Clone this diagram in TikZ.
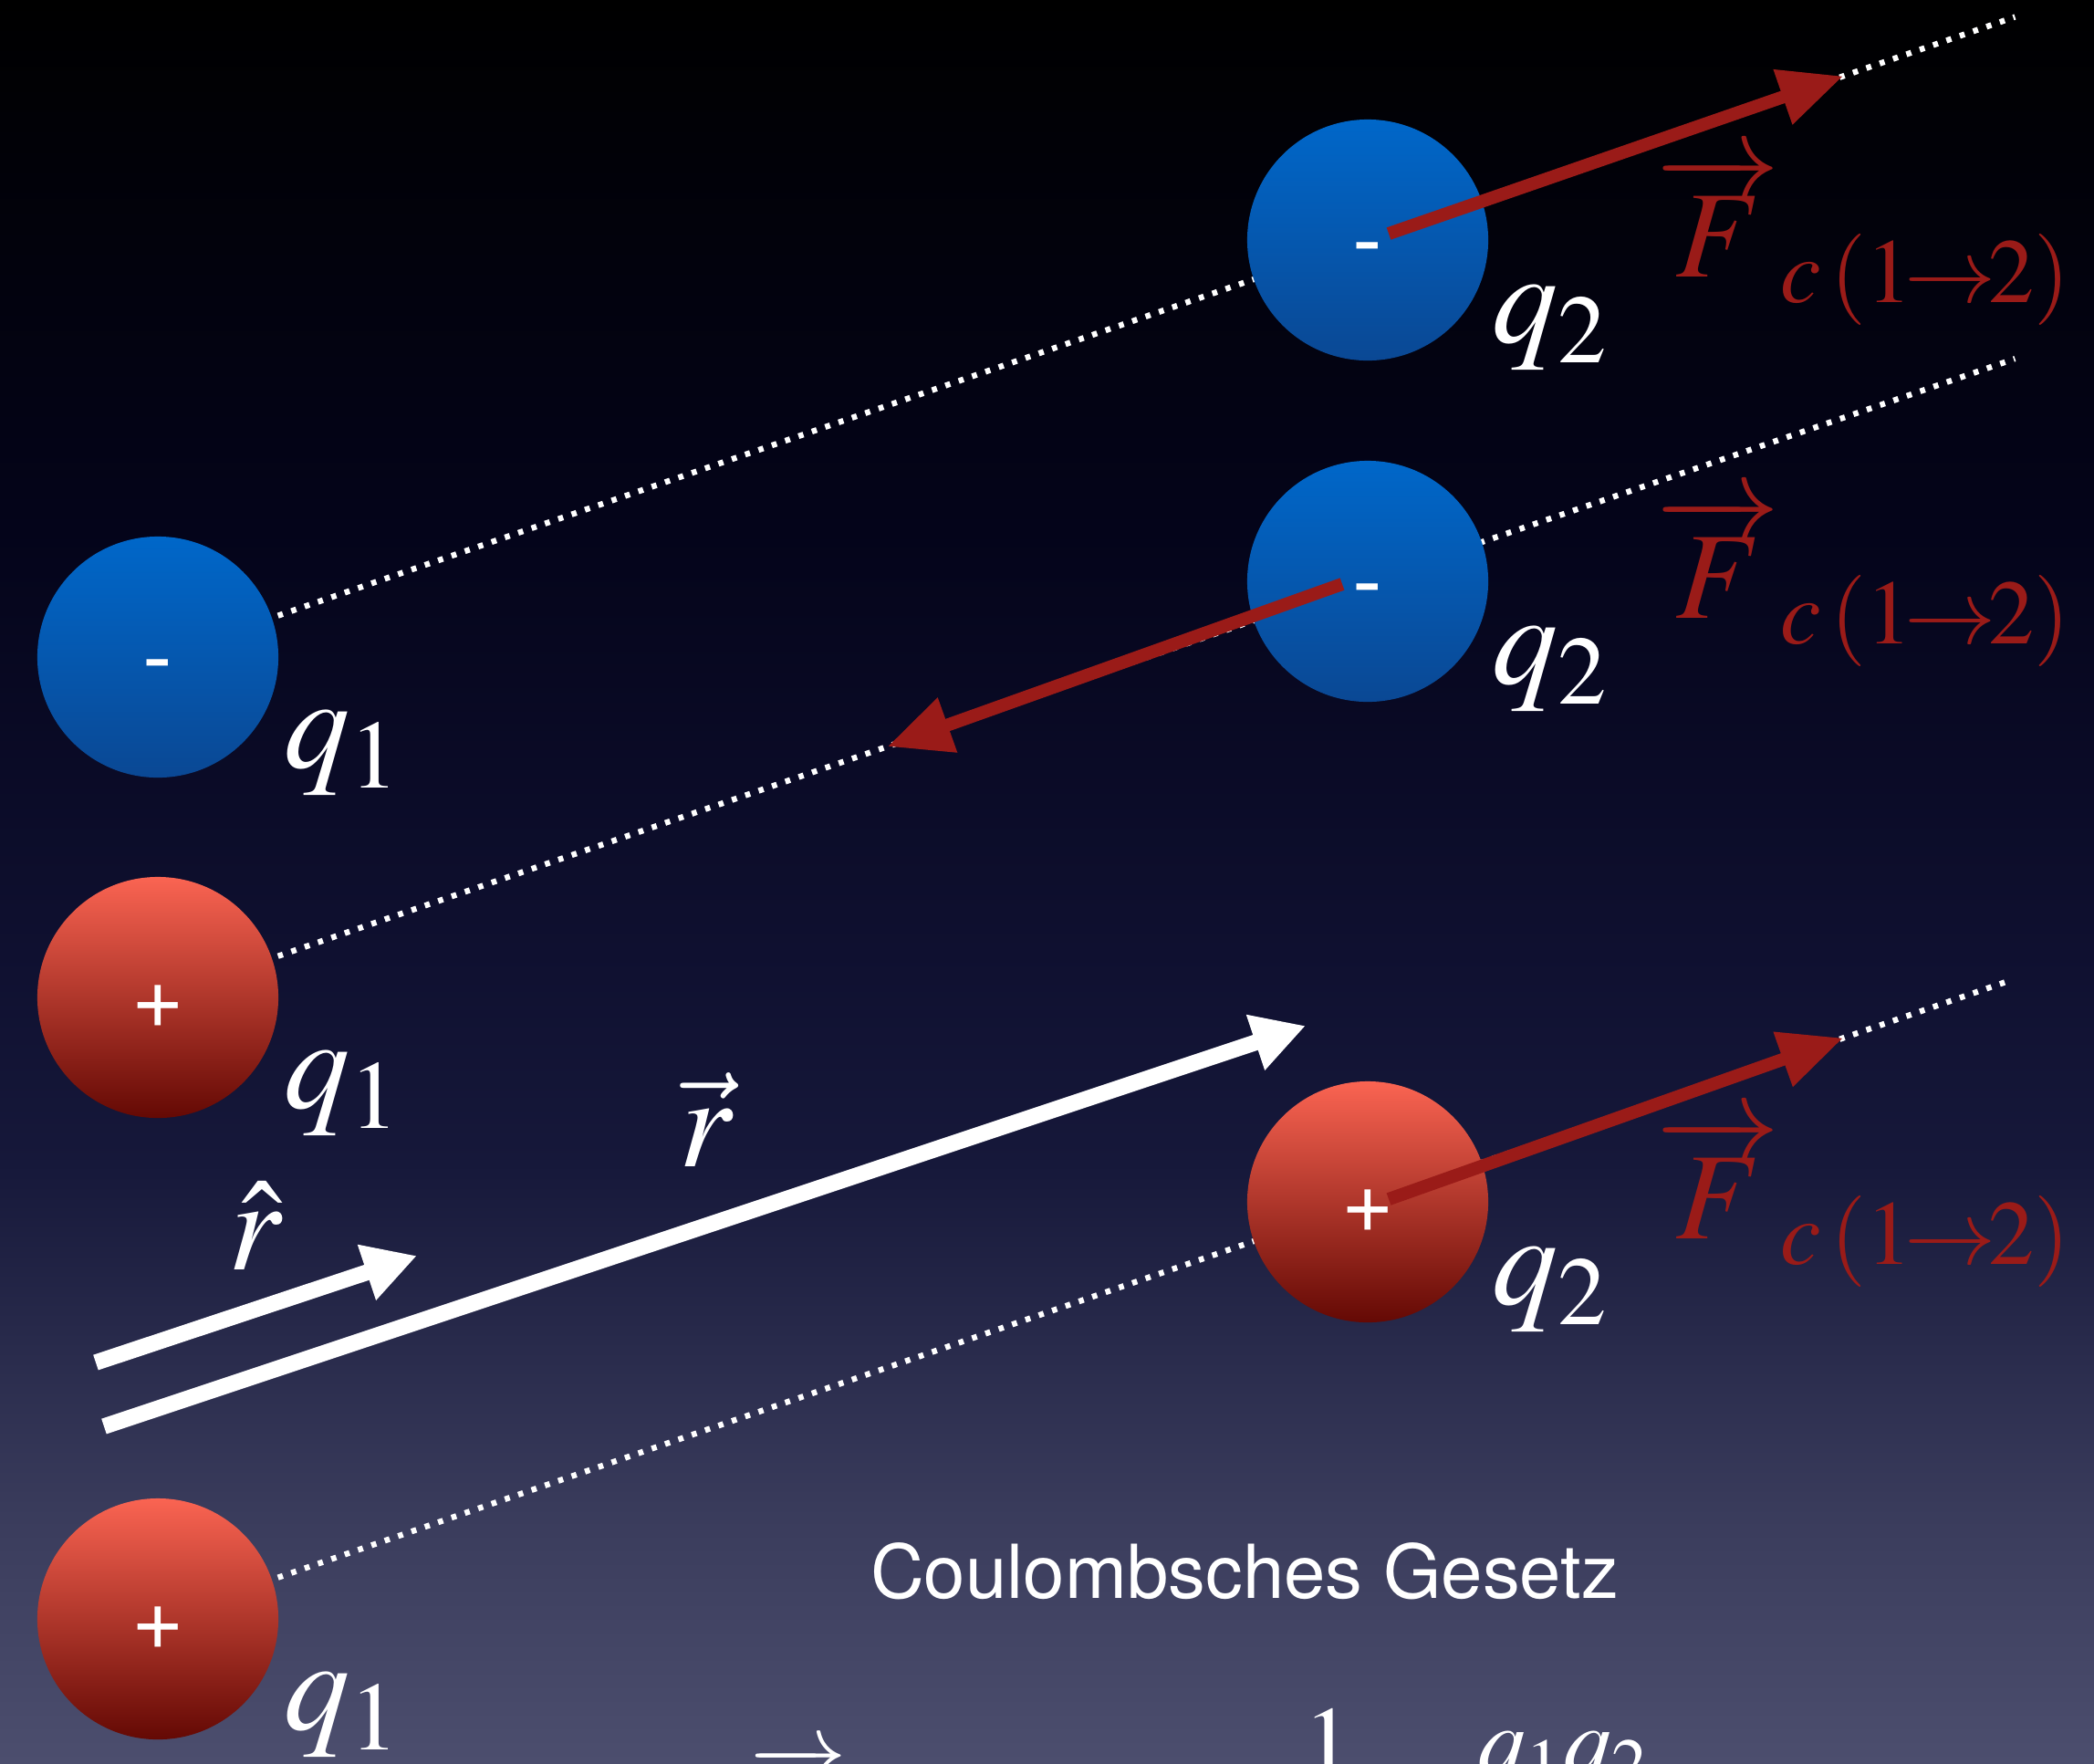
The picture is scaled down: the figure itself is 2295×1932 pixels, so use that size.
\documentclass[tikz,border=0pt]{standalone}
\usepackage{mathptmx}
\usepackage{fontspec}
\setsansfont{TeX Gyre Heros}
\usepackage{tikz}
\usetikzlibrary{arrows.meta, calc, backgrounds}
\definecolor{neg-top}{HTML}{0067C9}
\definecolor{neg-bottom}{HTML}{0A4894}
\definecolor{pos-top}{HTML}{FA6452}
\definecolor{pos-bottom}{HTML}{640904}
\definecolor{force-red}{HTML}{9A1B18}
\pgfdeclareverticalshading{slidebg}{100bp}{%
  color(0bp)=(rgb,255:red,76;green,78;blue,110);
  color(25bp)=(rgb,255:red,76;green,78;blue,110);
  color(32bp)=(rgb,255:red,58;green,60;blue,92);
  color(42bp)=(rgb,255:red,22;green,24;blue,58);
  color(48bp)=(rgb,255:red,15;green,16;blue,48);
  color(60bp)=(rgb,255:red,4;green,4;blue,26);
  color(75bp)=(black);
  color(100bp)=(black)}

\tikzset{
  charge/.style={circle, minimum size=2.64cm, inner sep=0pt, text=white,
                 text height=19pt, text depth=0pt,
                 font=\sffamily\fontsize{28}{30}\selectfont},
  negative/.style={charge, top color=neg-top, bottom color=neg-bottom},
  positive/.style={charge, top color=pos-top, bottom color=pos-bottom},
  guide/.style={white, line width=1.8pt, dash pattern=on 1.6pt off 2.8pt},
  force/.style={force-red, line width=4pt, -{Triangle[length=0.7cm, width=0.6cm]}},
  unitvec/.style={white, line width=5pt, -{Triangle[length=0.58cm, width=0.6cm]}},
  mathlabel/.style={text=white, font=\fontsize{41}{48}\selectfont},
  forcelabel/.style={text=force-red, font=\fontsize{38.5}{46}\selectfont},
}
\newcommand{\forcesym}{$\overrightarrow{F}_{c\,(1\mkern-1.5mu\to\mkern-1.5mu2)}$}

\begin{document}
\begin{tikzpicture}[x=0.01cm, y=-0.01cm]
  \useasboundingbox (0,0) rectangle (2295,1932);
  \clip (0,0) rectangle (2295,1932);

  % charges
  \node[negative] (qa1) at (173,720) {-};
  \node[negative] (qa2) at (1499,263) {-};
  \node[positive] (qb1) at (173,1093) {+};
  \node[negative] (qb2) at (1499,637) {-};
  \node[positive] (qc1) at (173,1774) {+};
  \node[positive] (qc2) at (1499,1317) {+};

  % background and lines of action
  \begin{scope}[on background layer]
    \shade[shading=slidebg] (0,0) rectangle (2295,1932);
    \draw[guide] (qa1.center) -- ($(qa1)!1.535!(qa2)$);
    \draw[guide] (qb1.center) -- ($(qb1)!1.535!(qb2)$);
    \draw[guide] (qc1.center) -- ($(qc1)!1.53!(qc2)$);
  \end{scope}

  % forces on q2
  \coordinate (fa-tip) at ($(qa1)!1.393!(qa2)$);
  \coordinate (fb-tip) at ($(qb2)!0.397!(qb1)$);
  \coordinate (fc-tip) at ($(qc1)!1.393!(qc2)$);
  \draw[force] ([shift={(23,-7)}]qa2.center) -- (fa-tip);
  \draw[force] ([shift={(-28,3)}]qb2.center) -- (fb-tip);
  \draw[force] ([shift={(23,-3)}]qc2.center) -- (fc-tip);

  % distance vectors
  \coordinate (rhat-tail) at (105,1493);
  \coordinate (rhat-tip) at (457,1376);
  \coordinate (rvec-tail) at (114,1563);
  \coordinate (rvec-tip) at (1431,1124);
  \draw[unitvec] (rhat-tail) -- (rhat-tip);
  \draw[unitvec] (rvec-tail) -- (rvec-tip);

  % labels
  \node[mathlabel] (la1) at ([shift={(202,105)}]qa1.center) {$q_1$};
  \node[mathlabel] (lb1) at ([shift={(202,105)}]qb1.center) {$q_1$};
  \node[mathlabel] (lc1) at ([shift={(202,105)}]qc1.center) {$q_1$};
  \node[mathlabel] (la2) at ([shift={(200,96)}]qa2.center) {$q_2$};
  \node[mathlabel] (lb2) at ([shift={(200,96)}]qb2.center) {$q_2$};
  \node[mathlabel] (lc2) at ([shift={(200,96)}]qc2.center) {$q_2$};
  \node[forcelabel] (fa-label) at ([shift={(544,0)}]qa2.center) {\forcesym};
  \node[forcelabel] (fb-label) at ([shift={(544,0)}]qb2.center) {\forcesym};
  \node[forcelabel] (fc-label) at ([shift={(544,0)}]qc2.center) {\forcesym};
  \node[mathlabel] (rvec-label) at (774,1227) {$\vec r$};
  \node[mathlabel] (rhat-label) at (280,1343) {$\hat r$};

  \node[text=white, font=\sffamily\fontsize{23.2}{28}\selectfont] (title) at (1364,1722) {Coulombsches Gesetz};
  \node[text=white, font=\fontsize{30}{36}\selectfont, anchor=base west, inner sep=0pt] (law) at (822,2015)
    {$\displaystyle \overrightarrow{F}_{c\,(1\to2)} =\mkern5mu \frac{1}{4\pi\varepsilon_0}\mkern9mu\frac{q_1q_2}{r^2}\,\hat r$};
\end{tikzpicture}
\end{document}
